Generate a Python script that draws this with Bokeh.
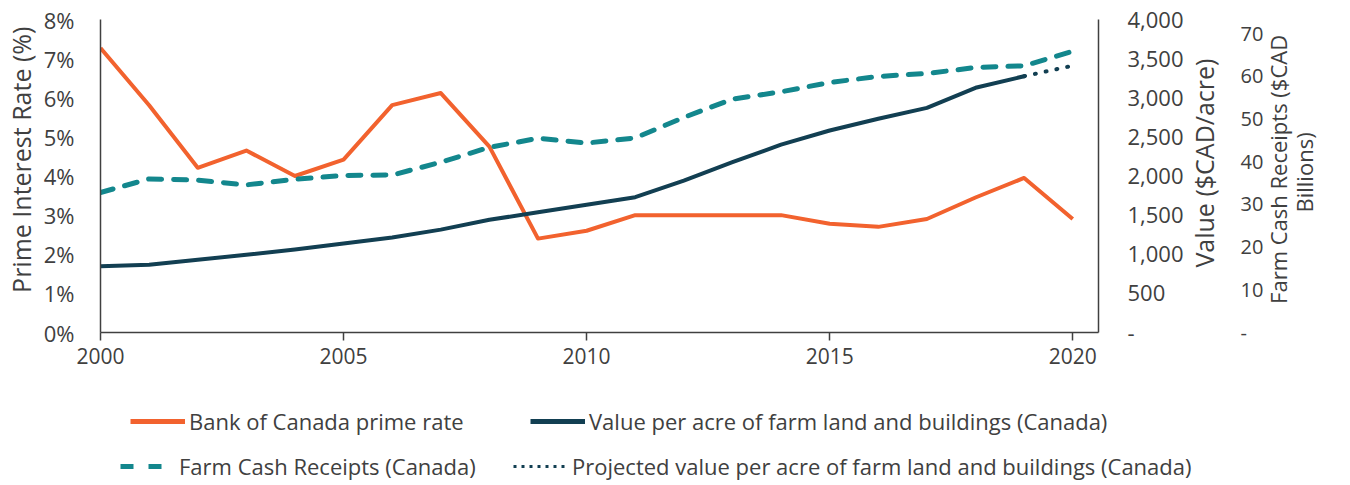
import math
from bokeh.plotting import figure
from bokeh.models import Range1d, LinearAxis, FixedTicker, Legend, LegendItem
from bokeh.embed import file_html
from bokeh.resources import INLINE

years = list(range(2000, 2021))
prime_rate = [7.27, 5.81, 4.21, 4.65, 4.00, 4.42, 5.81, 6.12, 4.75, 2.40, 2.60, 3.00,
              3.00, 3.00, 3.00, 2.78, 2.70, 2.90, 3.45, 3.95, 2.90]
value_years = list(range(2000, 2020))
value_per_acre = [847, 865, 929, 993, 1061, 1137, 1214, 1315, 1440, 1537, 1632, 1729,
                  1942, 2176, 2400, 2581, 2731, 2871, 3127, 3275]
proj_years = [2019, 2020]
proj_value = [3275, 3410]
cash_receipts = [32.8, 36.0, 35.7, 34.6, 35.9, 36.8, 36.9, 39.9, 43.4, 45.5, 44.4, 45.6,
                 50.4, 54.7, 56.4, 58.6, 60.0, 60.7, 62.1, 62.5, 65.9]

x_ticks = [2000, 2005, 2010, 2015, 2020]
pct_ticks = [0, 1, 2, 3, 4, 5, 6, 7, 8]
pct_labels = ["0%", "1%", "2%", "3%", "4%", "5%", "6%", "7%", "8%"]
val_ticks = [0, 500, 1000, 1500, 2000, 2500, 3000, 3500, 4000]
val_labels = ["-", "500", "1,000", "1,500", "2,000", "2,500", "3,000", "3,500", "4,000"]
cash_ticks = [0, 10, 20, 30, 40, 50, 60, 70]
cash_labels = ["-", "10", "20", "30", "40", "50", "60", "70"]

ORANGE = "#F2622E"
NAVY = "#123F52"
TEAL = "#13878D"
TXT = "#404040"
FONT = "Open Sans"
W = 1350
NB = "\u00a0"

p = figure(width=W, height=390, output_backend="svg", toolbar_location=None,
           x_range=Range1d(2000, 2020.53), y_range=Range1d(0, 8),
           min_border_left=100, min_border_top=19, min_border_right=251, min_border_bottom=58)
p.outline_line_color = None
p.xgrid.visible = False
p.ygrid.visible = False
p.background_fill_color = "white"
p.border_fill_color = "white"

p.extra_y_ranges = {"val": Range1d(0, 4000), "cash": Range1d(0, 73.35)}

# x axis
xa = p.xaxis[0]
xa.ticker = FixedTicker(ticks=x_ticks)
xa.minor_tick_line_color = None
xa.major_tick_in = 0
xa.major_tick_out = 8
xa.major_label_standoff = 7
xa.axis_line_color = "#404040"
xa.axis_line_width = 1.5
xa.major_tick_line_color = "#404040"
xa.major_tick_line_width = 1.5
xa.major_label_text_font = FONT
xa.major_label_text_font_size = "21px"
xa.major_label_text_color = TXT

# left axis
ya = p.yaxis[0]
ya.ticker = FixedTicker(ticks=pct_ticks)
ya.major_label_overrides = {t: l for t, l in zip(pct_ticks, pct_labels)}
ya.minor_tick_line_color = None
ya.major_tick_line_color = None
ya.major_tick_in = 0
ya.major_tick_out = 0
ya.major_label_standoff = 26
ya.axis_line_color = "#404040"
ya.axis_line_width = 1.5
ya.axis_label = NB * 5 + "Prime Interest Rate (%)"
ya.axis_label_standoff = 3
ya.axis_label_text_font = FONT
ya.axis_label_text_font_size = "25px"
ya.axis_label_text_font_style = "normal"
ya.axis_label_text_color = TXT
ya.major_label_text_font = FONT
ya.major_label_text_font_size = "22px"
ya.major_label_text_color = TXT

# right axis: value per acre
va = LinearAxis(y_range_name="val", ticker=FixedTicker(ticks=val_ticks))
va.major_label_overrides = {t: l for t, l in zip(val_ticks, val_labels)}
va.minor_tick_line_color = None
va.major_tick_line_color = None
va.major_tick_in = 0
va.major_tick_out = 0
va.major_label_standoff = 29
va.axis_line_color = "#404040"
va.axis_line_width = 1.5
va.axis_label = NB * 10 + "Value ($CAD/acre)"
va.axis_label_standoff = 17
va.axis_label_orientation = math.pi / 2
va.axis_label_align = "start"
va.axis_label_text_font = FONT
va.axis_label_text_font_size = "25px"
va.axis_label_text_font_style = "normal"
va.axis_label_text_color = TXT
va.major_label_text_font = FONT
va.major_label_text_font_size = "22px"
va.major_label_text_color = TXT
p.add_layout(va, "right")

# right axis: cash receipts
ca = LinearAxis(y_range_name="cash", ticker=FixedTicker(ticks=cash_ticks))
ca.major_label_overrides = {t: l for t, l in zip(cash_ticks, cash_labels)}
ca.minor_tick_line_color = None
ca.major_tick_line_color = None
ca.major_tick_in = 0
ca.major_tick_out = 0
ca.major_label_standoff = 0
ca.axis_line_color = None
ca.axis_label = NB * 5 + "Farm Cash Receipts ($CAD\n" + NB * 21 + "Billions)"
ca.axis_label_standoff = 25
ca.axis_label_orientation = math.pi / 2
ca.axis_label_align = "start"
ca.axis_label_text_font = FONT
ca.axis_label_text_font_size = "22px"
ca.axis_label_text_line_height = 0.87
ca.axis_label_text_font_style = "normal"
ca.axis_label_text_color = TXT
ca.major_label_text_font = FONT
ca.major_label_text_font_size = "20px"
ca.major_label_text_color = TXT
p.add_layout(ca, "right")

p.line(years, prime_rate, line_color=ORANGE, line_width=4, line_join="round")
p.line(value_years, value_per_acre, line_color=NAVY, line_width=4,
       line_join="round", line_cap="round", y_range_name="val")
p.line(years, cash_receipts, line_color=TEAL, line_width=5, line_dash="13 12",
       line_cap="round", line_join="round", y_range_name="cash")
p.line(proj_years, proj_value, line_color=NAVY, line_width=4, line_dash="1 10",
       line_cap="round", y_range_name="val")

# legend panel: a second root; its lines lie outside its (0..1) ranges and only lend their styles
LH = 93
q = figure(width=W, height=LH, output_backend="svg", toolbar_location=None,
           x_range=Range1d(0, 1), y_range=Range1d(0, 1),
           x_axis_type=None, y_axis_type=None, min_border=0)
q.outline_line_color = None
q.grid.visible = False
q.background_fill_color = "white"
q.border_fill_color = "white"
k_prime = q.line(years, prime_rate, line_color=ORANGE, line_width=5)
k_val = q.line(value_years, value_per_acre, line_color=NAVY, line_width=5)
k_cash = q.line(years, cash_receipts, line_color=TEAL, line_width=5, line_dash="13 15")
k_proj = q.line(proj_years, proj_value, line_color=NAVY, line_width=3, line_dash="3 5")


def make_legend(items, loc, lw):
    lg = Legend(items=items, orientation="horizontal", location=loc)
    lg.border_line_color = None
    lg.background_fill_alpha = 0
    lg.label_text_font = FONT
    lg.label_text_font_size = "22px"
    lg.label_text_color = TXT
    lg.glyph_width = 55
    lg.glyph_height = 30
    lg.label_height = 30
    lg.label_standoff = 4
    lg.label_width = lw
    lg.spacing = 20
    lg.padding = 0
    lg.margin = 0
    return lg


leg1 = make_legend([
    LegendItem(label="Bank of Canada prime rate", renderers=[k_prime]),
    LegendItem(label="Value per acre of farm land and buildings (Canada)", renderers=[k_val]),
], (130, 47), 321)
leg2 = make_legend([
    LegendItem(label="Farm Cash Receipts (Canada)", renderers=[k_cash]),
    LegendItem(label="Projected value per acre of farm land and buildings (Canada)", renderers=[k_proj]),
], (120, 2), 314)
q.add_layout(leg1, "center")
q.add_layout(leg2, "center")

open("out.html", "w").write(file_html([p, q], INLINE))
